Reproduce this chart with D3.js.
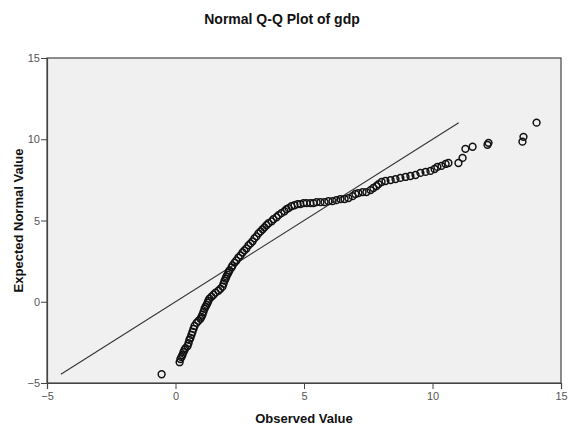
<!DOCTYPE html>
<html>
<head>
<meta charset="utf-8">
<script src="https://cdn.jsdelivr.net/npm/d3@7/dist/d3.min.js"></script>
<style>
  html, body { margin: 0; padding: 0; background: #fff; }
  svg { display: block; }
</style>
</head>
<body>
<div id="chart"></div>
<script>
const observed = [
  -0.54, 0.16, 0.19, 0.23, 0.27, 0.31, 0.35, 0.39, 0.47, 0.51,
  0.54, 0.58, 0.62, 0.66, 0.70, 0.74, 0.82, 0.89, 0.97, 1.01,
  1.05, 1.09, 1.13, 1.17, 1.21, 1.25, 1.28, 1.32, 1.40, 1.48,
  1.56, 1.67, 1.75, 1.83, 1.87, 1.91, 1.95, 1.98, 2.02, 2.06,
  2.10, 2.18, 2.22, 2.30, 2.37, 2.45, 2.53, 2.61, 2.68, 2.76,
  2.84, 2.92, 3.00, 3.07, 3.15, 3.23, 3.31, 3.39, 3.46, 3.54,
  3.62, 3.74, 3.81, 3.93, 4.01, 4.12, 4.24, 4.32, 4.40, 4.51,
  4.63, 4.75, 4.86, 4.98, 5.10, 5.25, 5.37, 5.49, 5.64, 5.80,
  5.95, 6.11, 6.26, 6.42, 6.58, 6.73, 6.89, 7.00, 7.12, 7.28,
  7.43, 7.59, 7.70, 7.82, 7.90, 8.02, 8.17, 8.37, 8.56, 8.75,
  8.95, 9.14, 9.34, 9.53, 9.73, 9.92, 10.08, 10.19, 10.35, 10.51,
  10.62, 11.01, 11.17, 11.28, 11.56, 12.14, 12.18, 13.50, 13.54, 14.05
];
const expected = [
  -4.46, -3.72, -3.53, -3.41, -3.28, -3.10, -2.97, -2.85, -2.72, -2.54,
  -2.35, -2.23, -2.04, -1.86, -1.67, -1.49, -1.30, -1.18, -1.05, -0.93,
  -0.80, -0.62, -0.43, -0.31, -0.19, -0.06, 0.06, 0.19, 0.31, 0.43,
  0.56, 0.68, 0.80, 0.93, 1.11, 1.30, 1.42, 1.55, 1.67, 1.80,
  1.92, 2.11, 2.23, 2.41, 2.54, 2.72, 2.85, 3.03, 3.16, 3.28,
  3.47, 3.59, 3.72, 3.90, 4.02, 4.21, 4.33, 4.46, 4.58, 4.71,
  4.83, 4.95, 5.08, 5.20, 5.33, 5.45, 5.57, 5.70, 5.76, 5.88,
  5.94, 6.01, 6.01, 6.07, 6.07, 6.07, 6.07, 6.13, 6.13, 6.13,
  6.19, 6.19, 6.25, 6.32, 6.32, 6.38, 6.50, 6.63, 6.69, 6.75,
  6.75, 6.87, 7.00, 7.12, 7.24, 7.37, 7.43, 7.49, 7.55, 7.62,
  7.68, 7.74, 7.80, 7.93, 7.99, 8.05, 8.17, 8.30, 8.36, 8.48,
  8.54, 8.54, 8.85, 9.41, 9.54, 9.66, 9.78, 9.85, 10.15, 11.02
];
const lineEnds = [-4.46, 11.02];
const xTicks = [-5, 0, 5, 10, 15];
const yTicks = [-5, 0, 5, 10, 15];
const titleText = "Normal Q-Q Plot of gdp";
const xLabel = "Observed Value";
const yLabel = "Expected Normal Value";

const W = 569, H = 428;
const svg = d3.select("#chart").append("svg")
  .attr("width", W).attr("height", H)
  .style("font-family", "'Liberation Sans', Arial, sans-serif");

const x = d3.scaleLinear().domain([-5, 15]).range([47, 561]);
const y = d3.scaleLinear().domain([-5, 15]).range([383, 58]);

// plot background + frame
svg.append("rect")
  .attr("x", x(-5)).attr("y", y(15))
  .attr("width", x(15) - x(-5)).attr("height", y(-5) - y(15))
  .attr("fill", "#f0f0f0").attr("stroke", "#444").attr("stroke-width", 1.2);

// axes
const xAxis = svg.append("g").attr("transform", `translate(0,${y(-5)})`)
  .call(d3.axisBottom(x).tickValues(xTicks).tickSize(6).tickPadding(3));
const yAxis = svg.append("g").attr("transform", `translate(${x(-5)},0)`)
  .call(d3.axisLeft(y).tickValues(yTicks).tickSize(6).tickPadding(1));
[xAxis, yAxis].forEach(g => {
  g.select(".domain").attr("stroke", "#444").attr("stroke-width", 1.2);
  g.selectAll(".tick line").attr("stroke", "#444");
  g.selectAll(".tick text").attr("fill", "#555").style("font-size", "11px")
    .style("font-family", "'Liberation Sans', Arial, sans-serif");
});

// reference line
svg.append("line")
  .attr("x1", x(lineEnds[0])).attr("y1", y(lineEnds[0]))
  .attr("x2", x(lineEnds[1])).attr("y2", y(lineEnds[1]))
  .attr("stroke", "#333").attr("stroke-width", 1.1);

// points
const pts = observed.map((v, i) => [v, expected[i]]);
svg.append("g").selectAll("circle").data(pts).join("circle")
  .attr("cx", d => x(d[0])).attr("cy", d => y(d[1]))
  .attr("r", 3.4)
  .attr("fill", "none").attr("stroke", "#111").attr("stroke-width", 1.5);

// title and labels
svg.append("text").attr("x", 282).attr("y", 24).attr("text-anchor", "middle")
  .style("font-size", "14px").style("font-weight", "bold").attr("fill", "#111").text(titleText);
svg.append("text").attr("x", x(5)).attr("y", 423).attr("text-anchor", "middle")
  .style("font-size", "13px").style("font-weight", "bold").attr("fill", "#111").text(xLabel);
svg.append("text").attr("transform", `translate(23,${(y(15) + y(-5)) / 2}) rotate(-90)`)
  .attr("text-anchor", "middle")
  .style("font-size", "13px").style("font-weight", "bold").attr("fill", "#111").text(yLabel);
</script>
</body>
</html>
